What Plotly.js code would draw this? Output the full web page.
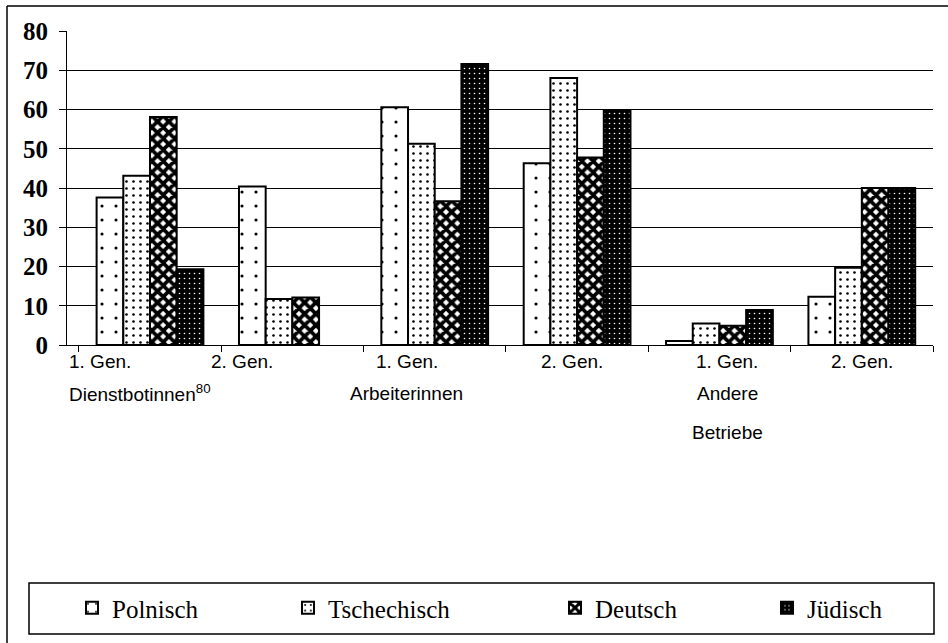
<!DOCTYPE html>
<html>
<head>
<meta charset="utf-8">
<script src="https://cdn.plot.ly/plotly-3.0.1.min.js"></script>
<style>html,body{margin:0;padding:0;background:#fff;}#chart{width:948px;height:643px;}</style>
</head>
<body>
<div id="chart"></div>
<script>
// ---- data ----
var categories = ['1. Gen. Dienstbotinnen', '2. Gen. Dienstbotinnen', '1. Gen. Arbeiterinnen', '2. Gen. Arbeiterinnen', '1. Gen. Andere Betriebe', '2. Gen. Andere Betriebe'];
var labelLine1 = ['1. Gen.', '2. Gen.', '1. Gen.', '2. Gen.', '1. Gen.', '2. Gen.'];
var labelLine2 = ['Dienstbotinnen<sup>80</sup>', '', 'Arbeiterinnen', '', 'Andere', ''];
var labelLine3 = ['', '', '', '', 'Betriebe', ''];
var seriesNames = ['Polnisch', 'Tschechisch', 'Deutsch', 'Jüdisch'];
var polnisch    = [37.6, 40.4, 60.6, 46.3, 1.0, 12.3];
var tschechisch = [43.1, 11.7, 51.3, 68.0, 5.5, 19.7];
var deutsch     = [58.1, 12.1, 36.6, 47.8, 4.9, 40.0];
var juedisch    = [19.3, null, 71.6, 59.7, 8.9, 40.0];
var yTicks = [0, 10, 20, 30, 40, 50, 60, 70, 80];

// ---- layout helpers (pixel -> paper) ----
var W = 948, H = 643, mL = 67, mR = 15, mT = 31, mB = 298;
var pw = W - mL - mR, ph = H - mT - mB;
function px(x) { return (x - mL) / pw; }
function py(y) { return (H - mB - y) / ph; }

var patterns = [
  {shape: '.', fgcolor: '#000', bgcolor: '#fff', size: 14, solidity: 0.04, fillmode: 'replace'},
  {shape: '.', fgcolor: '#000', bgcolor: '#fff', size: 7, solidity: 0.11, fillmode: 'replace'},
  {shape: 'x', fgcolor: '#000', bgcolor: '#fff', size: 8, solidity: 0.72, fillmode: 'replace'},
  {shape: '.', fgcolor: '#fff', bgcolor: '#000', size: 5, solidity: 0.08, fillmode: 'replace'}
];
var values = [polnisch, tschechisch, deutsch, juedisch];
var legendIds = ['legend', 'legend2', 'legend3', 'legend4'];
var legendSquareX = [97, 313, 580, 792];

var traces = values.map(function (v, i) {
  return {
    type: 'bar', name: seriesNames[i], x: categories, y: v,
    legend: legendIds[i],
    marker: {color: i === 3 ? '#000' : '#fff', pattern: patterns[i], line: {color: '#000', width: 2}},
    hoverinfo: 'x+y+name'
  };
});

var annotations = [];
var labelAnchor = ['left', 'center', 'center', 'center', 'center', 'center'];
var labelShift = [-83, -50, -28, -5, 8, 0];
var lineY = [361, 393, 432];
[labelLine1, labelLine2, labelLine3].forEach(function (lines, li) {
  lines.forEach(function (t, ci) {
    if (!t) return;
    annotations.push({
      xref: 'x', yref: 'paper', x: categories[ci], y: 0,
      xanchor: labelAnchor[ci], yanchor: 'middle', xshift: labelShift[ci], yshift: -(lineY[li] - (H - mB)),
      text: t, showarrow: false, align: labelAnchor[ci],
      font: {family: 'Liberation Sans, Arial, sans-serif', size: 19, color: '#000'}
    });
  });
});

var layout = {
  width: W, height: H,
  margin: {l: mL, r: mR, t: mT, b: mB, pad: 0},
  paper_bgcolor: '#fff', plot_bgcolor: '#fff',
  barmode: 'group', bargap: 0.25, bargroupgap: 0,
  xaxis: {
    type: 'category', tickson: 'boundaries', ticks: 'outside', ticklen: 6, tickcolor: '#000', tickwidth: 1,
    showticklabels: false, showline: true, linecolor: '#000', linewidth: 1, showgrid: false, zeroline: false,
    fixedrange: true
  },
  yaxis: {
    range: [0, 80], tickvals: yTicks, ticktext: yTicks.map(String),
    ticks: 'outside', ticklen: 7, tickcolor: '#000', tickwidth: 1, ticklabelstandoff: 6,
    showline: true, linecolor: '#000', linewidth: 1,
    showgrid: true, gridcolor: '#000', gridwidth: 1, zeroline: false,
    tickfont: {family: 'Liberation Serif, Times New Roman, serif', size: 25, color: '#000', weight: 'bold'},
    fixedrange: true
  },
  annotations: annotations,
  shapes: [
    {type: 'line', xref: 'paper', yref: 'paper', x0: px(7), x1: px(7), y0: py(6), y1: py(643), line: {color: '#000', width: 1.5}},
    {type: 'line', xref: 'paper', yref: 'paper', x0: px(7), x1: px(948), y0: py(6), y1: py(6), line: {color: '#000', width: 1.5}},
    {type: 'rect', xref: 'paper', yref: 'paper', x0: px(29), x1: px(934), y0: py(634), y1: py(583), line: {color: '#000', width: 1.5}, fillcolor: 'rgba(0,0,0,0)'}
  ],
  showlegend: true
};
legendIds.forEach(function (id, i) {
  layout[id] = {
    x: px(legendSquareX[i] - 25), y: py(608), xanchor: 'left', yanchor: 'middle',
    orientation: 'h', bgcolor: 'rgba(0,0,0,0)', borderwidth: 0,
    font: {family: 'Liberation Serif, Times New Roman, serif', size: 25, color: '#000'}
  };
});

Plotly.newPlot('chart', traces, layout, {displayModeBar: false, staticPlot: true});
</script>
</body>
</html>
